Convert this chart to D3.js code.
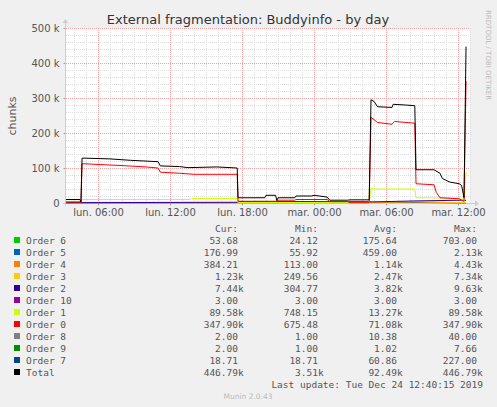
<!DOCTYPE html>
<html><head><meta charset="utf-8">
<script src="https://cdn.jsdelivr.net/npm/d3@7"></script>
<style>body{margin:0;background:#f0f0f0}svg{display:block}</style>
</head><body><svg id="c" width="497" height="407"></svg>
<script>
const xTicks = [6,12,18,24,30,36];
const xTickLabels = ["lun. 06:00","lun. 12:00","lun. 18:00","mar. 00:00","mar. 06:00","mar. 12:00"];
const yTicks = [0,100000,200000,300000,400000,500000];
const yTickLabels = ["0","100 k","200 k","300 k","400 k","500 k"];
// series: [hour since Monday 00:00, chunks]
const total = [[3.33,10000],[4.5,10000],[4.58,3000],[4.67,128000],[5,128000],[7,126000],[8.7,122000],[11,118000],[11.2,106000],[12.8,104000],[13.5,101000],[15.9,103000],[17.6,100000],[17.67,15000],[19.9,15000],[20,22000],[20.8,22000],[20.9,7000],[21,15000],[22.4,15000],[22.5,20000],[23.8,20000],[24,22000],[25.1,17000],[25.3,8000],[26.8,8000],[27,9000],[28.6,9000],[28.75,295000],[29,290000],[29.3,275000],[30.5,273000],[30.6,282000],[31.6,280000],[32.4,278000],[32.5,95000],[34,95000],[34.5,85000],[34.7,70000],[35.3,60000],[36.1,55000],[36.3,50000],[36.5,15000],[36.67,446790]];
const order0 = [[3.33,3000],[4.5,3000],[4.58,1000],[4.67,112000],[5,112000],[6,110000],[8,107000],[10,103000],[11,100000],[11.2,88000],[12.8,85000],[14,82000],[17.6,82000],[17.67,5000],[20.9,5000],[21,8000],[22.4,8000],[22.5,10000],[25.1,10000],[25.3,4000],[26.8,4000],[27,1000],[28.6,1000],[28.75,245000],[29.3,230000],[30.5,225000],[30.7,233000],[32.4,228000],[32.5,55000],[34,52000],[34.2,30000],[34.5,15000],[36.1,12000],[36.5,5000],[36.67,347900]];
const order1 = [[3.33,5000],[4.5,5000],[4.67,10000],[13.7,10000],[13.8,13000],[17.6,13000],[17.67,1000],[28.6,2000],[28.75,42000],[29,40000],[32.4,40000],[32.5,15000],[36.1,14000],[36.5,5000],[36.67,89580]];
const order2 = [[3.33,1000],[17.6,2000],[17.67,4000],[28.6,4000],[28.75,3000],[32.5,6000],[36.5,8000],[36.67,7440]];
const order3 = [[3.33,2000],[17.6,2000],[17.67,1000],[28.75,3000],[32.5,4000],[36.67,1230]];
const order4 = [[3.33,500],[28.75,1500],[32.5,3000],[36.67,384]];
const order5 = [[3.33,300],[32.5,1500],[36.67,177]];
const legendNames = ["Order 6","Order 5","Order 4","Order 3","Order 2","Order 10","Order 1","Order 0","Order 8","Order 9","Order 7","Total"];
const legendColors = ["#00cc00","#0066b3","#ff8000","#ffcc00","#330099","#990099","#ccff00","#ff0000","#808080","#008f00","#00487d","#000000"];
const cur = ["53.68","176.99","384.21","1.23k","7.44k","3.00","89.58k","347.90k","2.00","2.00","18.71","446.79k"];
const mins = ["24.12","55.92","113.00","249.56","304.77","3.00","748.15","675.48","1.00","1.00","18.71","3.51k"];
const avgs = ["175.64","459.00","1.14k","2.47k","3.82k","3.00","13.27k","71.08k","10.38","1.02","60.86","92.49k"];
const maxs = ["703.00","2.13k","4.43k","7.34k","9.63k","3.00","89.58k","347.90k","40.00","7.66","227.00","446.79k"];

const svg = d3.select("#c");
const L=66,R=470,T=28,B=203;
const x = d3.scaleLinear().domain([3.333,37]).range([L,R]);
const y = d3.scaleLinear().domain([0,500000]).range([B,T]);
svg.append("rect").attr("x",L).attr("y",T).attr("width",R-L).attr("height",B-T).attr("fill","#fff");
const g = svg.append("g");
// minor grid
for(let h=4;h<=37;h++){ if(h%6) g.append("line").attr("x1",x(h)+.5).attr("x2",x(h)+.5).attr("y1",T).attr("y2",B).attr("stroke","#ddd").attr("stroke-dasharray","1,1"); }
for(let v=20000;v<500000;v+=20000){ if(v%100000) g.append("line").attr("x1",L).attr("x2",R).attr("y1",Math.round(y(v))+.5).attr("y2",Math.round(y(v))+.5).attr("stroke","#ddd").attr("stroke-dasharray","1,1"); }
xTicks.forEach(h=>g.append("line").attr("x1",x(h)+.5).attr("x2",x(h)+.5).attr("y1",T).attr("y2",B).attr("stroke","#f0a0a0").attr("stroke-dasharray","1,1"));
yTicks.slice(1).forEach(v=>g.append("line").attr("x1",L).attr("x2",R).attr("y1",Math.round(y(v))+.5).attr("y2",Math.round(y(v))+.5).attr("stroke","#f0a0a0").attr("stroke-dasharray","1,1"));
// axes
const xa = svg.append("g").attr("transform",`translate(0,${B+0.5})`).call(d3.axisBottom(x).tickValues(xTicks).tickFormat((d,i)=>xTickLabels[i]).tickSize(2));
const ya = svg.append("g").attr("transform",`translate(${L-0.5},0)`).call(d3.axisLeft(y).tickValues(yTicks).tickFormat((d,i)=>yTickLabels[i]).tickSize(2));
[xa,ya].forEach(a=>{a.select(".domain").remove();a.selectAll("line").attr("stroke","#999");a.selectAll("text").attr("fill","#555").style("font","10px 'DejaVu Sans'");});
ya.selectAll("text").attr("dx",-1);
svg.append("line").attr("x1",L-3).attr("x2",R+5).attr("y1",B+.5).attr("y2",B+.5).attr("stroke","#ccd");
svg.append("line").attr("x1",L-.5).attr("x2",L-.5).attr("y1",T-5).attr("y2",B+3).attr("stroke","#ccd");
svg.append("path").attr("d",`M${R+5},${B-2.5}L${R+9},${B+.5}L${R+5},${B+3.5}Z`).attr("fill","#ccd");
svg.append("path").attr("d",`M${L-3.5},${T-5}L${L-.5},${T-9}L${L+2.5},${T-5}Z`).attr("fill","#ccd");
// lines
const line = d3.line().x(d=>x(d[0])).y(d=>y(d[1]));
[[order5,"#0066b3"],[order4,"#ff8000"],[order3,"#ffcc00"],[order2,"#330099"],[order1,"#ccff00"],[order0,"#ff0000"],[total,"#000000"]].forEach(([s,c])=>
  svg.append("path").attr("d",line(s)).attr("fill","none").attr("stroke",c).attr("stroke-width",1));
// texts
svg.append("text").attr("x",248).attr("y",24).attr("text-anchor","middle").attr("fill","#333").style("font","13px 'DejaVu Sans'").text("External fragmentation: Buddyinfo - by day");
svg.append("text").attr("transform","translate(16,116) rotate(-90)").attr("text-anchor","middle").attr("fill","#555").style("font","11px 'DejaVu Sans'").text("chunks");
svg.append("text").attr("transform","translate(486,10) rotate(90)").attr("fill","#bbb").style("font","7px 'DejaVu Sans'").text("RRDTOOL / TOBI OETIKER");
const mono = "9.5px 'DejaVu Sans Mono'";
const cols=[[238,cur],[318,mins],[397,avgs],[477,maxs]];
const hdr=["Cur:","Min:","Avg:","Max:"];
cols.forEach(([cx],i)=>svg.append("text").attr("x",cx).attr("y",232).attr("text-anchor","end").attr("fill","#555").style("font",mono).text(hdr[i]));
legendNames.forEach((n,i)=>{
  const yy=244+i*12;
  svg.append("rect").attr("x",14).attr("y",yy-7).attr("width",6).attr("height",6).attr("fill",legendColors[i]);
  svg.append("text").attr("x",26).attr("y",yy).attr("fill","#555").style("font",mono).text(n);
  cols.forEach(([cx,arr])=>{const v=arr[i];const k=v.endsWith("k");
    svg.append("text").attr("x",cx).attr("y",yy).attr("text-anchor","end").attr("fill","#555").style("font",mono).text(k?v.slice(0,-1):v);
    if(k) svg.append("text").attr("x",cx).attr("y",yy).attr("fill","#555").style("font",mono).text("k");});
});
svg.append("text").attr("x",483).attr("y",388).attr("text-anchor","end").attr("fill","#555").style("font",mono).text("Last update: Tue Dec 24 12:40:15 2019");
svg.append("text").attr("x",248).attr("y",399).attr("text-anchor","middle").attr("fill","#bbb").style("font","7.5px 'DejaVu Sans'").text("Munin 2.0.43");
</script></body></html>
